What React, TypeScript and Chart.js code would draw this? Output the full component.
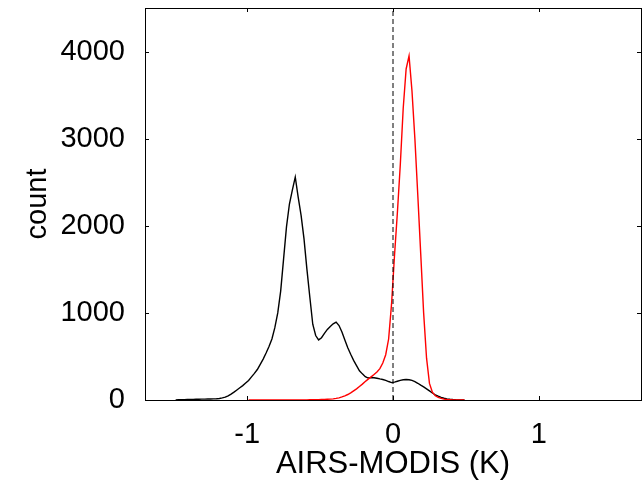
import React, { useEffect, useRef } from "react";
import { Chart, registerables } from "chart.js";

Chart.register(...registerables);

// Histogram bins: first bin starts at -1.5 K, each bin 0.02 K wide (100 bins)
const binStart = -1.5;
const binWidth = 0.02;

// Black histogram counts (bins centred -1.49 ... 0.49)
const blackCounts = [
  2, 3, 3, 4, 5, 6, 7, 8, 9, 10,
  10, 11, 12, 13, 15, 18, 24, 33, 48, 68,
  90, 115, 140, 165, 195, 225, 265, 305, 350, 410,
  470, 540, 615, 700, 830, 1000, 1250, 1620, 1990, 2250,
  2410, 2560, 2330, 2120, 1850, 1500, 1180, 870, 740, 690,
  715, 765, 810, 845, 875, 895, 855, 780, 690, 600,
  525, 455, 395, 335, 300, 268, 252, 258, 255, 250,
  242, 235, 225, 212, 200, 205, 215, 225, 232, 236,
  232, 225, 212, 192, 170, 150, 128, 104, 80, 60,
  44, 30, 20, 13, 8, 5, 3, 2, 1, 1,
];

// Red histogram counts (same bins); null = empty bin, not drawn
const redCounts = [
  null, null, null, null, null, null, null, null, null, null,
  null, null, null, null, null, null, null, null, null, null,
  null, null, null, null, null, 1, 0, 0, 1, 0,
  0, 1, 0, 1, 1, 0, 1, 1, 0, 1,
  1, 1, 1, 2, 2, 2, 3, 3, 4, 4,
  5, 6, 8, 10, 13, 18, 25, 35, 48, 63,
  82, 105, 128, 155, 182, 212, 240, 265, 292, 322,
  360, 425, 520, 700, 1100, 1650, 2150, 2700, 3350, 3800,
  3950, 3550, 3000, 2350, 1680, 1000, 480, 190, 90, 48,
  30, 18, 10, 6, 4, 2, 1, 1, 0, 0,
];

const zeroLineX = [0, 0];
const zeroLineY = [0, 4500];

const xTicks = [-1, 0, 1];
const yTicks = [0, 1000, 2000, 3000, 4000];
const xMin = -1.7;
const xMax = 1.7;
const yMin = 0;
const yMax = 4500;

const xTitle = "AIRS-MODIS (K)";
const yTitle = "count";

const FONT = "'Liberation Sans', Arial, Helvetica, sans-serif";

export default function App() {
  const ref = useRef<HTMLCanvasElement>(null);

  useEffect(() => {
    document.body.style.margin = "0";
    const canvas = ref.current;
    if (!canvas) return;

    const toPts = (arr: (number | null)[]) =>
      arr.map((v, i) => ({ x: +(binStart + binWidth * (i + 0.5)).toFixed(3), y: v }));

    const boxPlugin = {
      id: "matlabBox",
      afterDraw(chart: any) {
        const { ctx, chartArea: a, scales } = chart;
        ctx.save();
        ctx.strokeStyle = "#000";
        ctx.lineWidth = 1;
        ctx.strokeRect(a.left + 0.5, a.top + 0.5, a.right - a.left, a.bottom - a.top);
        const len = 4;
        ctx.beginPath();
        for (const v of xTicks) {
          const px = Math.round(scales.x.getPixelForValue(v)) + 0.5;
          ctx.moveTo(px, a.bottom);
          ctx.lineTo(px, a.bottom - len);
          ctx.moveTo(px, a.top);
          ctx.lineTo(px, a.top + len);
        }
        for (const v of yTicks) {
          const py = Math.round(scales.y.getPixelForValue(v)) + 0.5;
          ctx.moveTo(a.left, py);
          ctx.lineTo(a.left + len, py);
          ctx.moveTo(a.right, py);
          ctx.lineTo(a.right - len, py);
        }
        ctx.stroke();
        ctx.restore();
      },
    };

    const chart = new Chart(canvas, {
      type: "line",
      data: {
        datasets: [
          {
            data: zeroLineX.map((x, i) => ({ x, y: zeroLineY[i] })),
            borderColor: "#000",
            borderWidth: 1,
            borderDash: [5, 3],
            pointRadius: 0,
          },
          {
            data: toPts(redCounts),
            borderColor: "#ff0000",
            borderWidth: 1.4,
            pointRadius: 0,
            tension: 0,
            spanGaps: false,
          },
          {
            data: toPts(blackCounts),
            borderColor: "#000",
            borderWidth: 1.4,
            pointRadius: 0,
            tension: 0,
          },
        ],
      },
      options: {
        responsive: false,
        animation: false,
        layout: { padding: { top: 8, right: 1, left: 0, bottom: 0 } },
        plugins: { legend: { display: false }, tooltip: { enabled: false } },
        scales: {
          x: {
            type: "linear",
            min: xMin,
            max: xMax,
            grid: { display: false },
            border: { display: false },
            afterBuildTicks: (s: any) => {
              s.ticks = xTicks.map((value) => ({ value }));
            },
            afterFit: (s: any) => {
              s.height = 83;
              s.paddingLeft = 0;
              s.paddingRight = 0;
            },
            ticks: {
              color: "#000",
              font: { family: FONT, size: 29 },
              padding: 10,
              maxRotation: 0,
              callback: (v: any) => String(v),
            },
            title: {
              display: true,
              text: xTitle,
              color: "#000",
              font: { family: FONT, size: 31 },
              padding: 0,
            },
          },
          y: {
            type: "linear",
            min: yMin,
            max: yMax,
            grid: { display: false },
            border: { display: false },
            afterBuildTicks: (s: any) => {
              s.ticks = yTicks.map((value) => ({ value }));
            },
            afterFit: (s: any) => {
              s.width = 145;
              s.paddingTop = 0;
              s.paddingBottom = 0;
            },
            ticks: {
              color: "#000",
              font: { family: FONT, size: 29 },
              padding: 12,
              callback: (v: any) => String(v),
            },
            title: {
              display: true,
              text: yTitle,
              color: "#000",
              font: { family: FONT, size: 29 },
              padding: { top: 21, bottom: 0 },
            },
          },
        },
      },
      plugins: [boxPlugin],
    } as any);

    return () => chart.destroy();
  }, []);

  return (
    <div style={{ width: 642, height: 483, background: "#fff" }}>
      <canvas ref={ref} width={642} height={483} style={{ display: "block" }} />
    </div>
  );
}
